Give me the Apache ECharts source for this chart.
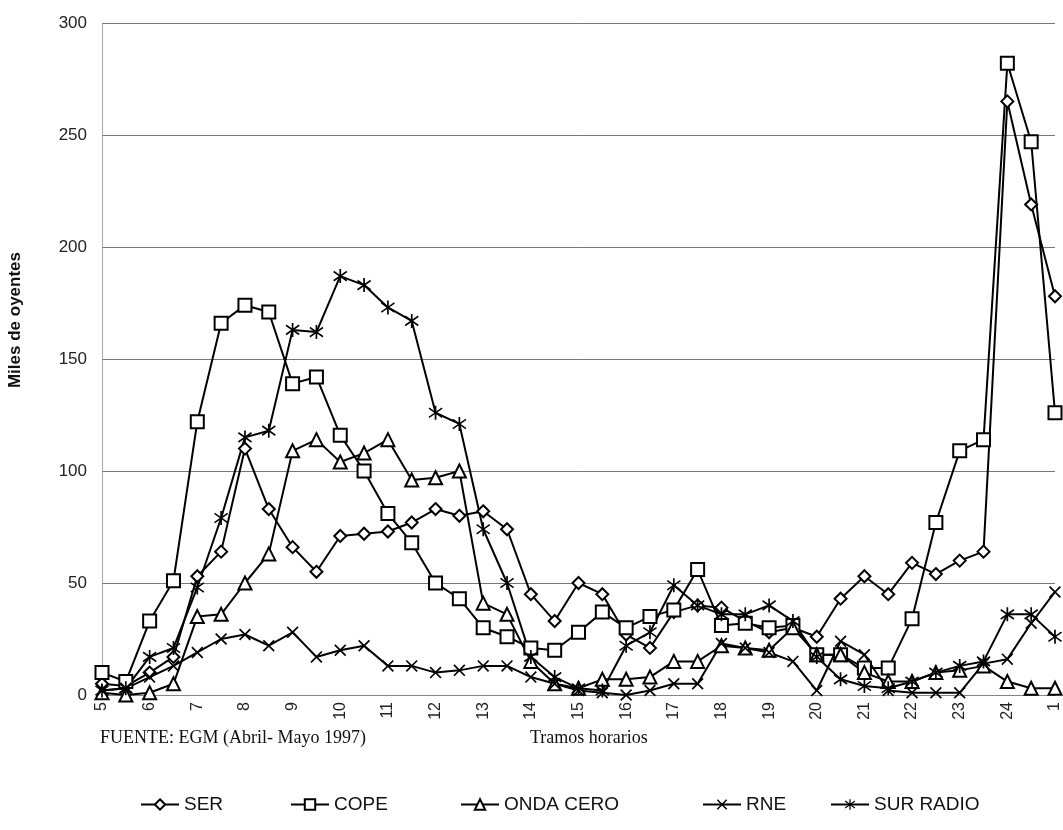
<!DOCTYPE html>
<html>
<head>
<meta charset="utf-8">
<script src="https://cdn.jsdelivr.net/npm/echarts@6/dist/echarts.min.js"></script>
<style>
html,body{margin:0;padding:0;background:#fff;}
#chart{width:1063px;height:830px;}
</style>
</head>
<body>
<div id="chart"></div>
<script>
const hours = ['5','5.5','6','6.5','7','7.5','8','8.5','9','9.5','10','10.5','11','11.5','12','12.5','13','13.5','14','14.5','15','15.5','16','16.5','17','17.5','18','18.5','19','19.5','20','20.5','21','21.5','22','22.5','23','23.5','24','24.5','1'];
const ser = [5,4,10,17,53,64,110,83,66,55,71,72,73,77,83,80,82,74,45,33,50,45,27,21,37,40,39,33,28,30,26,43,53,45,59,54,60,64,265,219,178];
const cope = [10,6,33,51,122,166,174,171,139,142,116,100,81,68,50,43,30,26,21,20,28,37,30,35,38,56,31,32,30,31,18,18,12,12,34,77,109,114,282,247,126];
const ondaCero = [1,0,1,5,35,36,50,63,109,114,104,108,114,96,97,100,41,36,15,5,3,7,7,8,15,15,22,21,20,30,18,18,10,6,6,10,11,13,6,3,3];
const rne = [2,3,8,13,19,25,27,22,28,17,20,22,13,13,10,11,13,13,8,5,2,1,0,2,5,5,23,21,19,15,2,24,18,2,1,1,1,14,16,32,46];
const surRadio = [2,3,17,21,48,79,115,118,163,162,187,183,173,167,126,121,74,50,17,8,3,2,22,28,49,40,36,36,40,33,17,7,4,3,6,10,13,15,36,36,26];
const seriesNames = ['SER','COPE','ONDA CERO','RNE','SUR RADIO'];

const X_PATH = 'path://M0,10 L10,0 L100,90 L90,100 Z M90,0 L100,10 L10,100 L0,90 Z';
const AST_PATH = 'path://M44,0 L56,0 L56,100 L44,100 Z M0,22 L6,12 L100,78 L94,88 Z M94,12 L100,22 L6,88 L0,78 Z';

function mk(name, data, symbol, size, hollow) {
  return {
    name: name, type: 'line', data: data,
    symbol: symbol, symbolSize: size, showAllSymbol: true,
    lineStyle: {color: '#000', width: 2},
    itemStyle: hollow ? {color: '#fff', borderColor: '#000', borderWidth: 2} : {color: '#000', borderWidth: 0},
    emphasis: {disabled: true}, animation: false
  };
}

const chart = echarts.init(document.getElementById('chart'), null, {renderer: 'canvas'});
const legFont = {fontFamily: '"Liberation Sans Narrow","Liberation Sans",Arial,sans-serif', fontSize: 19, color: '#111'};
const legendPos = [135, 285, 455, 697, 825];
const option = {
  backgroundColor: '#fff',
  animation: false,
  grid: {left: 102, right: 6, top: 23, bottom: 135, containLabel: false},
  xAxis: {
    type: 'category', data: hours, boundaryGap: false,
    axisLine: {show: true, lineStyle: {color: '#888', width: 1, type: 'dotted'}},
    axisTick: {show: false},
    axisLabel: {interval: 1, rotate: 90, margin: 7, fontFamily: '"Liberation Sans",Arial,sans-serif', fontSize: 16, color: '#222'},
    splitLine: {show: false}
  },
  yAxis: {
    type: 'value', min: 0, max: 300, interval: 50,
    axisLine: {show: true, lineStyle: {color: '#999', width: 1, type: 'dotted'}},
    axisTick: {show: false},
    axisLabel: {margin: 15, fontFamily: '"Liberation Sans",Arial,sans-serif', fontSize: 17, color: '#222'},
    splitLine: {show: true, lineStyle: {color: '#777', width: 1}}
  },
  legend: seriesNames.map((n, i) => ({
    data: [n], left: legendPos[i], top: 790, itemWidth: 38, itemHeight: 13, itemGap: 4,
    textStyle: legFont, selectedMode: false
  })),
  graphic: [
    {type: 'text', left: 7, top: 252, rotation: Math.PI / 2,
     style: {text: 'Miles de oyentes', font: 'bold 17px "Liberation Sans", Arial, sans-serif', fill: '#111'}},
    {type: 'text', left: 100, top: 729,
     style: {text: 'FUENTE: EGM (Abril- Mayo 1997)', font: '18px "Liberation Serif", "Times New Roman", serif', fill: '#111'}},
    {type: 'text', left: 530, top: 729,
     style: {text: 'Tramos horarios', font: '18px "Liberation Serif", "Times New Roman", serif', fill: '#111'}}
  ],
  series: [
    mk('SER', ser, 'diamond', 12, true),
    mk('COPE', cope, 'rect', 13, true),
    mk('ONDA CERO', ondaCero, 'triangle', 13, true),
    mk('RNE', rne, X_PATH, 12, false),
    mk('SUR RADIO', surRadio, AST_PATH, 14, false)
  ]
};
chart.setOption(option);
</script>
</body>
</html>
